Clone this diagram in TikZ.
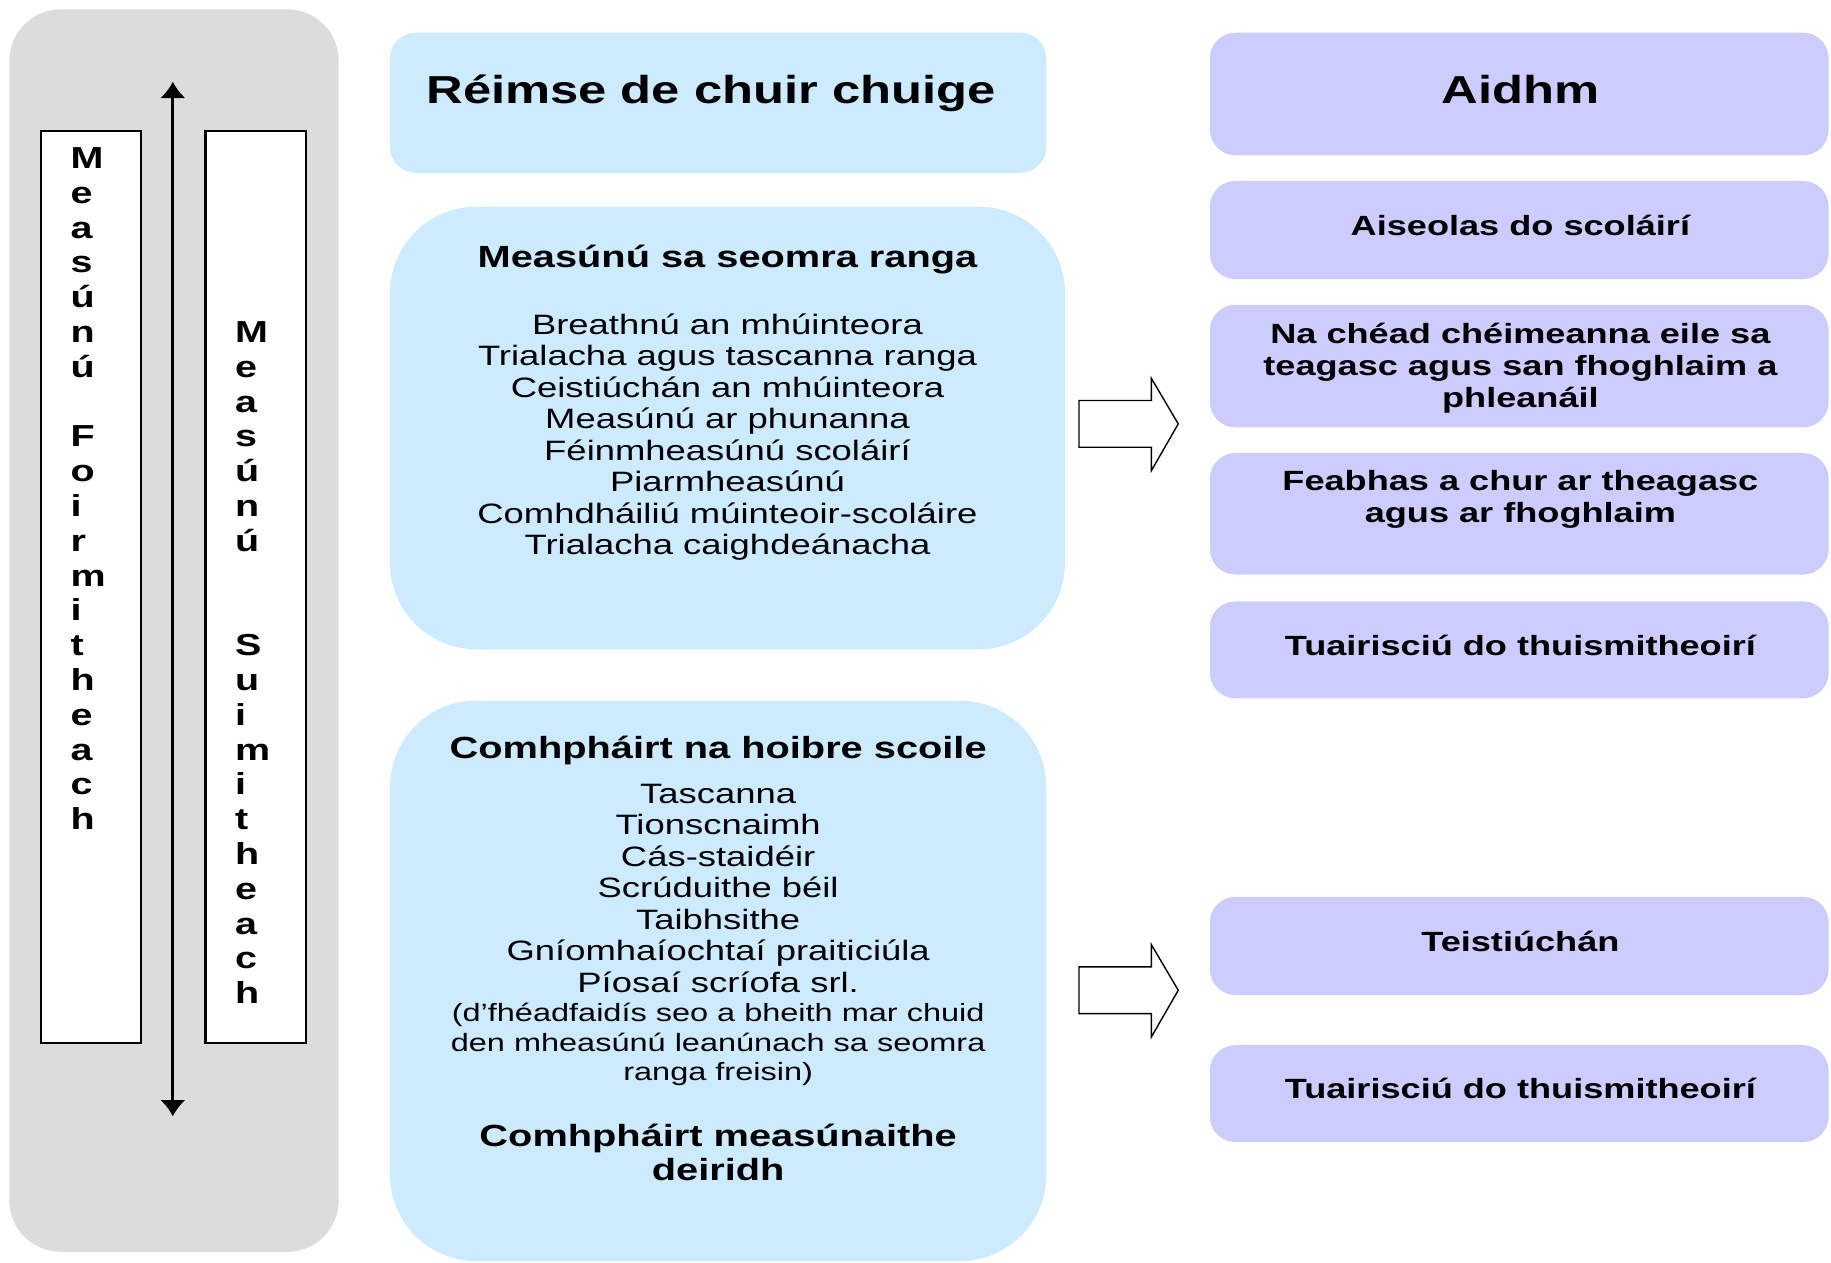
\documentclass[tikz,border=0pt]{standalone}
\usepackage{fontspec}
\setmainfont{Liberation Sans}[FakeStretch=1.3]
\usetikzlibrary{arrows.meta}
\definecolor{panelgray}{RGB}{220,220,220}
\definecolor{areablue}{RGB}{204,235,255}
\definecolor{aimblue}{RGB}{204,204,255}
\tikzset{
  panel/.style={fill=panelgray, rounded corners=22pt, minimum width=141pt, minimum height=532pt, inner sep=0pt},
  stackbox/.style={draw, line width=1pt, fill=white, minimum width=43pt, minimum height=390.5pt, inner sep=0pt},
  stacktext/.style={anchor=north west, align=left, inner sep=0pt, font=\fontsize{13}{14.9}\selectfont\bfseries},
  areabox/.style={fill=areablue, inner sep=0pt, minimum width=281pt},
  aimbox/.style={fill=aimblue, rounded corners=11pt, inner sep=0pt, minimum width=265pt},
  headtext/.style={inner sep=0pt, font=\fontsize{16.7}{19}\selectfont\bfseries},
  subtext/.style={align=center, inner sep=0pt, font=\fontsize{13.1}{14.5}\selectfont\bfseries},
  listtext/.style={anchor=north, align=center, inner sep=0pt, font=\fontsize{12}{13.5}\selectfont},
  notetext/.style={anchor=north, align=center, inner sep=0pt, font=\fontsize{10.7}{12.5}\selectfont},
  aimtext/.style={align=center, inner sep=0pt, font=\fontsize{11.9}{13.75}\selectfont\bfseries},
  blockarrow/.style={draw, fill=white, line width=0.6pt}
}
\begin{document}
\begin{tikzpicture}[x=0.5pt, y=-0.5pt]
  \useasboundingbox (0,0) rectangle (1568,1081);
  % scale of assessment
  \node[panel] (panel) at (149,540) {};
  \node[stackbox] (formative) at (78,502.5) {};
  \node[stackbox] (summative) at (219,502.5) {};
  \node[stacktext] (formtxt) at (60,126)
    {M\\e\\a\\s\\ú\\n\\ú\\[14.9pt]F\\o\\i\\r\\m\\i\\t\\h\\e\\a\\c\\h};
  \node[stacktext] (summtxt) at (201,275)
    {M\\e\\a\\s\\ú\\n\\ú\\[29.8pt]S\\u\\i\\m\\i\\t\\h\\e\\a\\c\\h};
  \coordinate (scaletop) at (148,70);
  \coordinate (scalebot) at (148,956);
  \draw[{Latex[length=7pt,width=11pt]}-{Latex[length=7pt,width=11pt]}, line width=1.2pt]
    (scaletop) -- (scalebot);

  % range of approaches
  \node[areabox, minimum height=60pt, rounded corners=11pt] (range) at (615,88) {};
  \node[headtext] (rangetxt) at (609,80) {Réimse de chuir chuige};
  \node[areabox, minimum width=289pt, minimum height=189.5pt, rounded corners=37pt] (room) at (623,366.5) {};
  \node[subtext] (roomtitle) at (623,222) {Measúnú sa seomra ranga};
  \node[listtext] (roomlist) at (623,268)
    {Breathnú an mhúinteora\\Trialacha agus tascanna ranga\\Ceistiúchán an mhúinteora\\
     Measúnú ar phunanna\\Féinmheasúnú scoláirí\\Piarmheasúnú\\
     Comhdháiliú múinteoir-scoláire\\Trialacha caighdeánacha};
  \node[areabox, minimum height=240pt, rounded corners=37pt] (school) at (615,840) {};
  \node[subtext] (schooltitle) at (615,643) {Comhpháirt na hoibre scoile};
  \node[listtext] (schoollist) at (615,671)
    {Tascanna\\Tionscnaimh\\Cás-staidéir\\Scrúduithe béil\\Taibhsithe\\
     Gníomhaíochtaí praiticiúla\\Píosaí scríofa srl.};
  \node[notetext] (schoolnote) at (615,859)
    {(d’fhéadfaidís seo a bheith mar chuid\\den mheasúnú leanúnach sa seomra\\ranga freisin)};
  \node[subtext] (finaltitle) at (615,987) {Comhpháirt measúnaithe\\deiridh};

  % aims
  \node[aimbox, minimum height=52.5pt] (aim) at (1301,80.5) {};
  \node[headtext] (aimtxt) at (1302,77) {Aidhm};
  \node[aimbox, minimum height=42pt] (feedback) at (1301,197) {};
  \node[aimtext] (feedbacktxt) at (1302,193) {Aiseolas do scoláirí};
  \node[aimbox, minimum height=52.5pt] (nextsteps) at (1301,313.5) {};
  \node[aimtext] (nextstepstxt) at (1302,315)
    {Na chéad chéimeanna eile sa\\teagasc agus san fhoghlaim a\\phleanáil};
  \node[aimbox, minimum height=52pt] (improve) at (1301,440) {};
  \node[aimtext] (improvetxt) at (1302,428) {Feabhas a chur ar theagasc\\agus ar fhoghlaim};
  \node[aimbox, minimum height=41.5pt] (report) at (1301,556.5) {};
  \node[aimtext] (reporttxt) at (1302,553) {Tuairisciú do thuismitheoirí};
  \node[aimbox, minimum height=42pt] (certify) at (1301,810) {};
  \node[aimtext] (certifytxt) at (1302,806) {Teistiúchán};
  \node[aimbox, minimum height=41.5pt] (reportb) at (1301,936.5) {};
  \node[aimtext] (reportbtxt) at (1302,932) {Tuairisciú do thuismitheoirí};

  % block arrows
  \coordinate (roomout) at (924,363);
  \coordinate (schoolout) at (924,848);
  \draw[blockarrow] (roomout) ++(0,-20) -- ++(62,0) -- ++(0,-19) -- ++(23,39)
    -- ++(-23,40) -- ++(0,-20) -- ++(-62,0) -- cycle;
  \draw[blockarrow] (schoolout) ++(0,-20) -- ++(62,0) -- ++(0,-19) -- ++(23,39)
    -- ++(-23,40) -- ++(0,-20) -- ++(-62,0) -- cycle;
\end{tikzpicture}
\end{document}
